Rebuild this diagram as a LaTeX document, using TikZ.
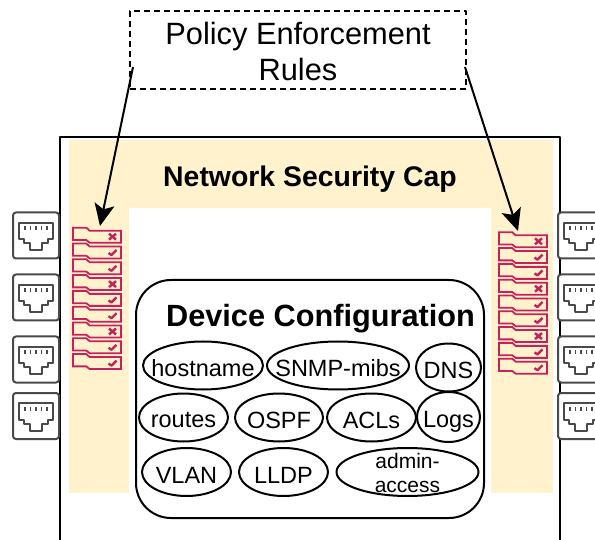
\documentclass[tikz,border=0pt]{standalone}
\usepackage{fontspec}
\setmainfont{Liberation Sans}
\usetikzlibrary{arrows.meta,shapes.geometric}
\definecolor{capcream}{HTML}{FFF2CC}
\definecolor{rulered}{HTML}{C7215D}
\definecolor{portgray}{HTML}{4A4A4A}
\tikzset{
	item/.style={draw,ellipse,line width=2pt,inner sep=0pt,minimum height=48pt},
	every label/.style={inner sep=0pt,align=center,yshift=-3pt,font=\fontsize{23.5}{24.5}\selectfont},
	rulebox/.pic={
		\draw[rulered,line width=1.8pt,fill=capcream,line join=miter] (0,0)--(13.3,0)--(16.7,3)--(48,3)--(48,15)--(16.7,15)--(13.3,12.3)--(0,12.3)--cycle;
	},
	denymark/.pic={
		\draw[rulered,line width=2.4pt] (-3.5,-3)--(3.5,3) (-3.5,3)--(3.5,-3);
	},
	allowmark/.pic={
		\draw[rulered,line width=2.4pt] (-4,0.5)--(-1,2.5)--(4,-2.5);
	},
	rjport/.pic={
		\draw[portgray,line width=2pt,rounded corners=3pt,fill=white] (-23,-23) rectangle (23,23);
		\draw[portgray,line width=2pt] (-17,-12.7)--(17,-12.7)--(17,3.5)--(12,3.5)--(12,8)--(6,8)--(6,14.5)--(-6,14.5)--(-6,8)--(-12,8)--(-12,3.5)--(-17,3.5)--cycle;
		\foreach \px in {-11,-5.5,0,5.5,11} \draw[portgray,line width=1.6pt] (\px,-9)--(\px,-5);
	}
}
\begin{document}
\begin{tikzpicture}[x=1pt,y=-1pt,>={Stealth[length=22pt,width=20pt,inset=5pt]},line join=round]
	\clip (0,0) rectangle (595,540);
	% cap and device frame
	\fill[capcream] (69,140) rectangle (553,493);
	\fill[white] (129,208) rectangle (491,540);
	\draw[line width=2pt] (60,540)--(60,137)--(560,137)--(560,540);
	\node[font=\fontsize{28.4}{32}\selectfont\bfseries] (cap) at (310,179) {Network Security Cap};
	% ports
	\foreach \py in {235.5,297.5,359.5,416} {
		\pic at (36,\py) {rjport};
		\pic at (581,\py) {rjport};
	}
	% rule lists
	\foreach \n/\ox/\oy in {0/73/227.7,1/499/232.3} {
		\foreach \i/\m in {0/denymark,1/allowmark,2/allowmark,3/denymark,4/allowmark,5/allowmark,6/denymark,7/allowmark,8/allowmark} {
			\pic at (\ox,\oy+\i*15.8) {rulebox};
			\pic at (\ox+39.5,\oy+\i*15.8+9) {\m};
		}
	}
	\coordinate (rulesL) at (100,226);
	\coordinate (rulesR) at (518,231);
	% configuration
	\draw[line width=2pt,rounded corners=35pt,fill=white] (136,280) rectangle (484,518);
	\node[font=\fontsize{30.7}{34}\selectfont\bfseries] (config) at (320.5,319) {Device Configuration};
	\node[item,minimum width=120pt,label={center:hostname}] (hostname) at (203,365.5) {};
	\node[item,minimum width=142pt,label={center:SNMP-mibs}] (snmp) at (338,365.5) {};
	\node[item,minimum width=65pt,label={center:DNS}] (dns) at (448.5,367.5) {};
	\node[item,minimum width=89pt,label={center:routes}] (routes) at (183.5,417.5) {};
	\node[item,minimum width=88pt,label={center:OSPF}] (ospf) at (279,417.5) {};
	\node[item,minimum width=89pt,label={center:ACLs}] (acls) at (371.5,417.5) {};
	\node[item,minimum width=63pt,minimum height=50pt,label={[yshift=-2pt]center:Logs}] (logs) at (448.5,417) {};
	\node[item,minimum width=89pt,label={center:VLAN}] (vlan) at (186.5,472) {};
	\node[item,minimum width=89pt,label={center:LLDP}] (lldp) at (283.5,472) {};
	\node[item,minimum width=142pt,label={[font=\fontsize{21}{24.5}\selectfont,yshift=2pt]center:admin-\\access}] (admin) at (407.5,472) {};
	% policy box
	\node[draw,line width=2pt,fill=white,minimum width=336pt,minimum height=78pt,inner sep=0pt,dash pattern=on 6pt off 4pt,label={[font=\fontsize{30.8}{36}\selectfont,yshift=1.5pt]center:Policy Enforcement\\Rules}] (policy) at (298,50) {};
	\coordinate (policyL) at (133,67);
	\coordinate (policyR) at (465,67);
	\draw[->,line width=2pt] (policyL)--(rulesL);
	\draw[->,line width=2pt] (policyR)--(rulesR);
\end{tikzpicture}
\end{document}
